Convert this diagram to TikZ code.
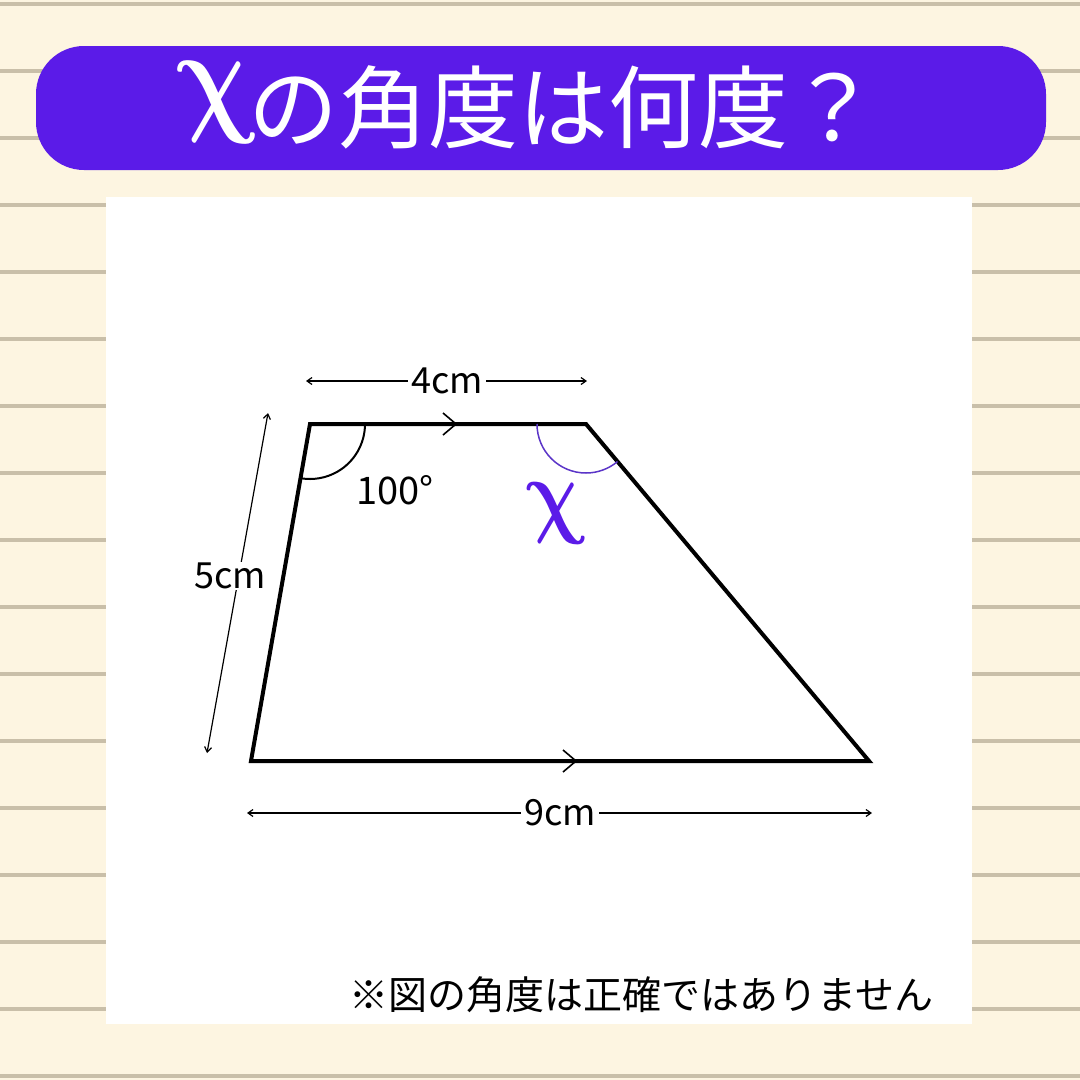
\documentclass[tikz,border=0pt]{standalone}
\usepackage{bm}
\usepackage{fontspec}
\setmainfont{Noto Sans CJK JP}
\usetikzlibrary{arrows.meta}
\definecolor{bg}{HTML}{FDF5E1}
\definecolor{rulec}{HTML}{C9BFA9}
\definecolor{titlepurple}{HTML}{5B1BE8}
\definecolor{arcpurple}{HTML}{5B35C8}
\newcommand{\bigchi}[2]{\scalebox{#1}[#2]{\normalsize$\bm{\chi}$}}
\tikzset{
  edge/.style={line width=4pt, line join=miter},
  dim/.style={line width=1.2pt, {Straight Barb[length=5pt,width=7pt]}-{Straight Barb[length=5pt,width=7pt]}},
  dimlabel/.style={fill=white, inner sep=3pt, font=\fontsize{36}{40}\selectfont},
  tick/.style={line width=1.6pt},
  upchi/.style={xslant=-0.22, transform shape, inner sep=0pt},
}
\begin{document}
\begin{tikzpicture}[x=1pt,y=-1pt]
\useasboundingbox (0,0) rectangle (1080,1080);
\fill[bg] (0,0) rectangle (1080,1080);
\foreach \y in {4,71,...,1076} { \fill[rulec] (0,\y-2.2) rectangle (1080,\y+2.2); }
% title bar
\fill[titlepurple, rounded corners=48pt] (36,46) rectangle (1046,170);
\begin{scope}[shift={(217,102)}]
  \node[upchi, text=white] (titlechi) at (0,0) {\bigchi{10.2}{12.8}};
\end{scope}
\node[text=white, anchor=west, inner sep=0pt, font=\fontsize{90}{96}\selectfont] (title) at (248,107) {の角度は何度？};
% white panel
\fill[white] (106,197) rectangle (972,1024);
% trapezoid
\coordinate (A) at (310,424);
\coordinate (B) at (586,424);
\coordinate (C) at (869,761);
\coordinate (D) at (251,761);
\draw[edge] (A) -- (B) -- (C) -- (D) -- cycle;
% angle arcs
\draw[line width=2pt] ([shift={(55,0)}]A) arc[start angle=0, end angle=100, radius=55];
\draw[arcpurple, line width=1.5pt] ([shift={(-49,0)}]B) arc[start angle=180, end angle=50, radius=49];
% parallel ticks
\draw[tick] (443,413) -- (456,424) -- (443,435);
\draw[tick] (563,750) -- (576,761) -- (563,772);
% dimension lines
\coordinate (t1) at (306,381); \coordinate (t2) at (587,381);
\draw[dim] (t1) -- (t2);
\node[dimlabel] (l4) at (447,381) {4cm};
\coordinate (s1) at (268,413); \coordinate (s2) at (207,753);
\draw[dim] (s1) -- (s2);
\node[dimlabel, inner sep=1pt] (l5) at (230,576) {5cm};
\coordinate (b1) at (247,813); \coordinate (b2) at (872,813);
\draw[dim] (b1) -- (b2);
\node[dimlabel] (l9) at (560,813) {9cm};
% angle labels
\node[font=\fontsize{38}{42}\selectfont] (l100) at (395,490) {100°};
\begin{scope}[shift={(556,513)}]
  \node[upchi, text=titlepurple] (lx) at (0,0) {\bigchi{7.6}{9.6}};
\end{scope}
% footer
\node[anchor=east, font=\fontsize{39}{44}\selectfont] (note) at (937,995) {※図の角度は正確ではありません};
\end{tikzpicture}
\end{document}
